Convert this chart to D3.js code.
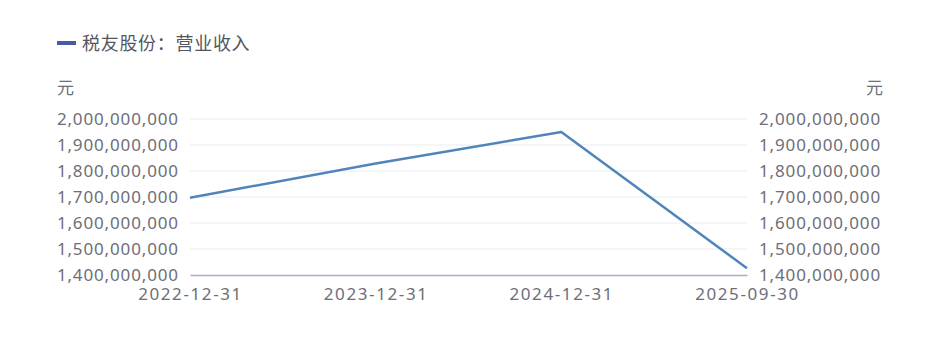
<!DOCTYPE html>
<html>
<head>
<meta charset="utf-8">
<script src="https://cdn.jsdelivr.net/npm/d3@7"></script>
<style>
  body { margin: 0; background: #fff; }
  text { font-family: "Microsoft YaHei", "Noto Sans CJK SC", "Noto Sans", sans-serif; }
</style>
</head>
<body>
<div id="chart"></div>
<script>
var categories = ["2022-12-31", "2023-12-31", "2024-12-31", "2025-09-30"];
var revenue = [1697000000, 1829000000, 1950000000, 1426000000];
var yTicks = [1400000000, 1500000000, 1600000000, 1700000000, 1800000000, 1900000000, 2000000000];
var seriesName = "税友股份：营业收入";
var unit = "元";

var width = 937, height = 339;
var plotLeft = 190, plotRight = 747, plotTop = 119, plotBottom = 275;

var svg = d3.select("#chart").append("svg")
    .attr("width", width)
    .attr("height", height);

var x = d3.scalePoint()
    .domain(categories)
    .range([plotLeft, plotRight]);

var y = d3.scaleLinear()
    .domain([1400000000, 2000000000])
    .range([plotBottom, plotTop]);

var fmt = d3.format(",");

// grid
svg.selectAll("line.grid")
    .data(yTicks.slice(1))
    .enter()
    .append("line")
    .attr("class", "grid")
    .attr("x1", plotLeft)
    .attr("x2", plotRight)
    .attr("y1", function(d){ return y(d); })
    .attr("y2", function(d){ return y(d); })
    .attr("stroke", "#e9ebf3")
    .attr("stroke-width", 1);

// axes
var leftAxis = svg.append("g")
    .attr("transform", "translate(" + plotLeft + ",0)")
    .call(d3.axisLeft(y).tickValues(yTicks).tickFormat(fmt).tickSize(0).tickPadding(12));
var rightAxis = svg.append("g")
    .attr("transform", "translate(" + plotRight + ",0)")
    .call(d3.axisRight(y).tickValues(yTicks).tickFormat(fmt).tickSize(0).tickPadding(12));
var bottomAxis = svg.append("g")
    .attr("transform", "translate(0," + plotBottom + ")")
    .call(d3.axisBottom(x).tickSize(0).tickPadding(13));

[leftAxis, rightAxis].forEach(function(g){
  g.select(".domain").remove();
  g.selectAll("text").attr("font-size", 17).attr("fill", "#6e6e78")
    .attr("letter-spacing", 0.85)
    .style("font-family", "'Noto Sans', sans-serif");
});
leftAxis.selectAll("text").attr("dx", 0.85);
bottomAxis.select(".domain").attr("stroke", "#a9aec8").attr("stroke-width", 1.5);
bottomAxis.selectAll("text").attr("font-size", 17).attr("fill", "#6e6e78")
    .attr("letter-spacing", 1.6)
    .style("font-family", "'Noto Sans', sans-serif");

// unit labels
svg.append("text").attr("x", 57).attr("y", 94).text(unit)
    .attr("font-size", 17).attr("fill", "#6e6e78");
svg.append("text").attr("x", 883).attr("y", 94).text(unit)
    .attr("text-anchor", "end").attr("font-size", 17).attr("fill", "#6e6e78");

// line
var line = d3.line()
    .x(function(d, i){ return x(categories[i]); })
    .y(function(d){ return y(d); });

svg.append("path")
    .datum(revenue)
    .attr("d", line)
    .attr("fill", "none")
    .attr("stroke", "#5085bb")
    .attr("stroke-width", 2.5)
    .attr("stroke-linejoin", "round");

// legend
svg.append("line")
    .attr("x1", 57).attr("x2", 76)
    .attr("y1", 43).attr("y2", 43)
    .attr("stroke", "#4b5aa3")
    .attr("stroke-width", 4);
svg.append("text")
    .attr("x", 82).attr("y", 50)
    .text(seriesName)
    .attr("font-size", 18)
    .attr("letter-spacing", 0.7)
    .attr("fill", "#555560");
</script>
</body>
</html>
